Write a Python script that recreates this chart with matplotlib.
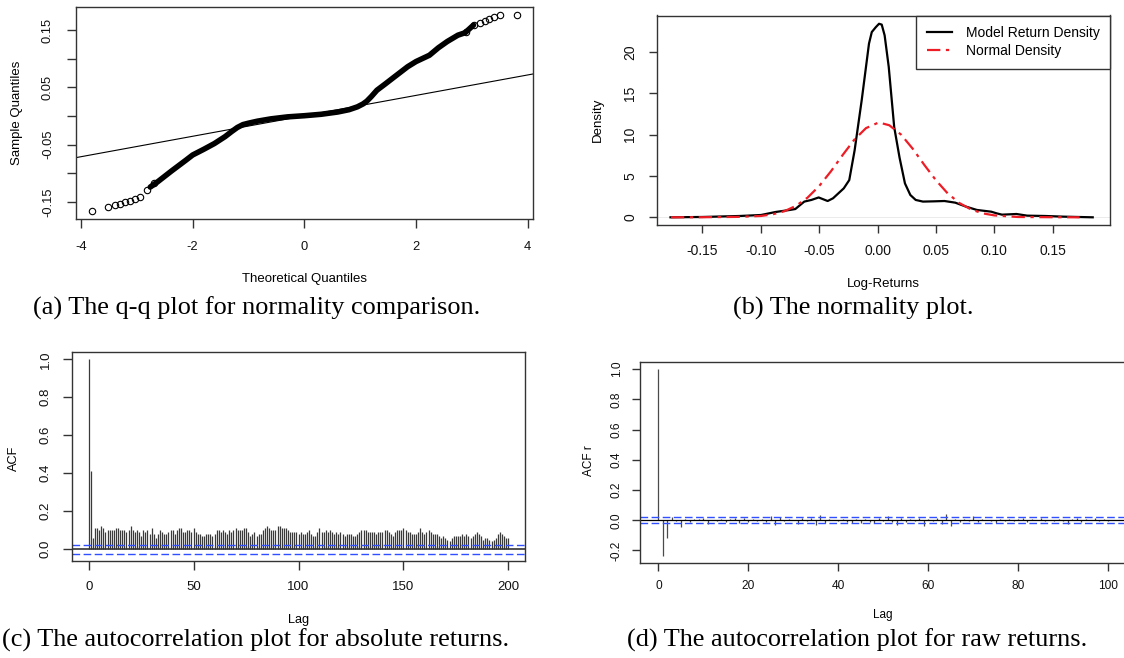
import numpy as np
import matplotlib
matplotlib.use("Agg")
import matplotlib.pyplot as plt

plt.rcParams["font.family"] = ["Liberation Sans", "DejaVu Sans"]
plt.rcParams["axes.unicode_minus"] = False

W, H = 1124, 658
DPI = 100

# (a) q-q plot: points (theoretical, sample)
qq_tail_lo_x = [-3.80, -3.52, -3.39, -3.30, -3.21, -3.12, -3.03, -2.94, -2.82, -2.70]
qq_tail_lo_y = [-0.1663, -0.158, -0.155, -0.154, -0.1506, -0.1483, -0.1453, -0.1408, -0.129, -0.1174]
qq_band_x = [-2.76, -2.63, -2.38, -2.12, -2.0, -1.80, -1.61, -1.42, -1.30, -1.20, -1.10,
             -1.0, -0.84, -0.6, -0.3, 0.0, 0.3, 0.6, 0.8, 0.95, 1.05, 1.12, 1.2, 1.3,
             1.45, 1.60, 1.85, 2.0, 2.24, 2.4, 2.56, 2.75, 2.88, 3.03]
qq_band_y = [-0.124, -0.115, -0.096, -0.077, -0.068, -0.058, -0.048, -0.036, -0.027, -0.020,
             -0.015, -0.0125, -0.009, -0.005, -0.0015, 0.0005, 0.003, 0.007, 0.011, 0.016,
             0.021, 0.026, 0.034, 0.045, 0.056, 0.0673, 0.086, 0.095, 0.106, 0.119, 0.130,
             0.141, 0.1453, 0.1587]
qq_tail_hi_x = [2.90, 3.03, 3.15, 3.24, 3.31, 3.39, 3.51, 3.81]
qq_tail_hi_y = [0.1460, 0.1587, 0.162, 0.166, 0.170, 0.173, 0.176, 0.1762]
qq_line_slope = 0.01783
qq_line_icpt = 0.0003

# (b) density curves
model_x = [-0.1774, -0.15, -0.118, -0.0998, -0.0875, -0.0752, -0.0705, -0.0628, -0.0567,
           -0.0505, -0.0428, -0.0382, -0.029, -0.0243, -0.0197, -0.0136, -0.0074, -0.005,
           -0.0015, 0.0012, 0.0035, 0.006, 0.0095, 0.0142, 0.0188, 0.0234, 0.028, 0.0326,
           0.0388, 0.048, 0.0573, 0.0665, 0.0757, 0.085, 0.0973, 0.1019, 0.1065, 0.1189,
           0.1281, 0.1435, 0.159, 0.1842]
model_y = [0.0, 0.04, 0.16, 0.28, 0.64, 0.89, 1.0, 1.9, 2.1, 2.4, 1.97, 2.3, 3.5, 4.5, 8.1,
           14.2, 21.0, 22.4, 23.0, 23.4, 23.3, 22.0, 18.2, 10.9, 7.2, 4.1, 2.7, 2.1, 1.9,
           1.93, 1.97, 1.77, 1.29, 0.89, 0.68, 0.48, 0.32, 0.4, 0.2, 0.16, 0.08, 0.0]
normal_x = [-0.177, -0.15, -0.12, -0.10, -0.09, -0.08, -0.07, -0.06, -0.05, -0.04, -0.03,
            -0.02, -0.01, 0.0, 0.002, 0.01, 0.02, 0.03, 0.04, 0.05, 0.06, 0.07, 0.08, 0.09,
            0.10, 0.12, 0.15, 0.173]
normal_y = [0.0, 0.01, 0.05, 0.16, 0.36, 0.73, 1.38, 2.38, 3.79, 5.56, 7.52, 9.38, 10.78,
            11.41, 11.43, 11.13, 10.01, 8.3, 6.33, 4.47, 2.89, 1.73, 0.95, 0.48, 0.23, 0.04,
            0.01, 0.0]

# (c) ACF of absolute returns, lags 0..200
acf_abs = [
    1.00, 0.41, 0.06, 0.11, 0.11, 0.10, 0.12, 0.11, 0.09, 0.10,
    0.10, 0.10, 0.10, 0.11, 0.11, 0.10, 0.10, 0.10, 0.09, 0.10,
    0.12, 0.10, 0.09, 0.10, 0.09, 0.07, 0.10, 0.09, 0.10, 0.08,
    0.11, 0.08, 0.06, 0.08, 0.10, 0.09, 0.08, 0.08, 0.09, 0.10,
    0.10, 0.08, 0.10, 0.11, 0.11, 0.09, 0.09, 0.10, 0.10, 0.09,
    0.11, 0.09, 0.08, 0.08, 0.07, 0.07, 0.08, 0.08, 0.08, 0.07,
    0.08, 0.10, 0.10, 0.09, 0.10, 0.09, 0.08, 0.10, 0.09, 0.10,
    0.11, 0.10, 0.10, 0.10, 0.11, 0.11, 0.09, 0.07, 0.08, 0.09,
    0.07, 0.08, 0.08, 0.10, 0.11, 0.12, 0.11, 0.10, 0.10, 0.10,
    0.12, 0.12, 0.11, 0.11, 0.11, 0.10, 0.09, 0.09, 0.09, 0.09,
    0.08, 0.09, 0.08, 0.08, 0.09, 0.10, 0.08, 0.07, 0.07, 0.09,
    0.11, 0.09, 0.09, 0.10, 0.09, 0.10, 0.09, 0.08, 0.09, 0.08,
    0.09, 0.08, 0.07, 0.08, 0.08, 0.08, 0.07, 0.07, 0.08, 0.09,
    0.10, 0.10, 0.10, 0.09, 0.09, 0.09, 0.09, 0.08, 0.09, 0.09,
    0.09, 0.10, 0.10, 0.09, 0.08, 0.07, 0.09, 0.10, 0.10, 0.10,
    0.11, 0.10, 0.09, 0.09, 0.08, 0.08, 0.08, 0.09, 0.11, 0.09,
    0.08, 0.09, 0.10, 0.09, 0.08, 0.08, 0.08, 0.07, 0.06, 0.07,
    0.06, 0.05, 0.04, 0.06, 0.07, 0.07, 0.07, 0.07, 0.08, 0.07,
    0.08, 0.07, 0.06, 0.07, 0.08, 0.09, 0.08, 0.07, 0.05, 0.06,
    0.06, 0.05, 0.04, 0.05, 0.06, 0.08, 0.09, 0.08, 0.07, 0.06,
    0.06,
]
ci_abs = 0.0235

# (d) ACF of raw returns, lags 0..100
acf_raw = [
    1.0, -0.235, -0.12, 0.024, -0.008, -0.047, 0.010, -0.012, 0.008, 0.006,
    0.012, -0.028, 0.004, -0.006, 0.010, -0.010, 0.006, 0.012, -0.016, 0.018,
    -0.012, 0.010, -0.008, 0.006, -0.014, 0.028, -0.030, 0.020, -0.006, 0.008,
    0.004, -0.022, 0.012, -0.008, 0.016, -0.032, 0.034, -0.016, 0.008, 0.004,
    -0.006, 0.010, -0.010, -0.020, 0.006, -0.018, 0.008, -0.010, -0.020, 0.012,
    -0.006, 0.026, -0.010, -0.034, 0.014, -0.012, 0.006, -0.008, 0.012, -0.040,
    0.010, -0.008, 0.014, -0.028, 0.044, -0.038, 0.010, -0.012, 0.006, -0.008,
    0.026, -0.010, 0.008, 0.004, -0.006, -0.016, 0.008, -0.006, 0.010, -0.004,
    0.006, 0.012, -0.010, 0.006, 0.004, 0.014, -0.008, 0.004, -0.006, 0.010,
    -0.004, -0.022, 0.006, 0.012, -0.010, 0.008, 0.004, 0.014, -0.008, 0.006,
    -0.004,
]
ci_raw = 0.021

captions = ["(a) The q-q plot for normality comparison.",
            "(b) The normality plot.",
            "(c) The autocorrelation plot for absolute returns.",
            "(d) The autocorrelation plot for raw returns."]

EDGE = "#333333"
BLUE = "#3050ff"


def px_axes(fig, left, top, right, bottom):
    return fig.add_axes([left / W, 1 - bottom / H, (right - left) / W, (bottom - top) / H])


def ftext(fig, x, y, s, **kw):
    fig.text(x / W, 1 - y / H, s, **kw)


def style(ax, size, tlen, pad):
    for sp in ax.spines.values():
        sp.set_color(EDGE)
        sp.set_linewidth(1.0)
    ax.tick_params(direction="out", length=tlen, width=1.0, color=EDGE,
                   labelsize=size, pad=pad, labelcolor="#111111")
    for lab in ax.get_yticklabels():
        lab.set_rotation(90)
        lab.set_va("center")


fig = plt.figure(figsize=(W / DPI, H / DPI), dpi=DPI)

# ---- (a) q-q plot
ax = px_axes(fig, 75.7, 6.7, 533, 219)
ax.set_xlim(-4.095, 4.095)
ax.set_ylim(-0.1797, 0.1907)
ax.plot(qq_band_x, qq_band_y, color="black", lw=4.0, solid_capstyle="round",
        solid_joinstyle="round")
ax.plot(qq_tail_lo_x + qq_tail_hi_x, qq_tail_lo_y + qq_tail_hi_y, "o",
        mfc="none", mec="black", ms=4.6, mew=0.8)
xl = np.array([-4.095, 4.095])
ax.plot(xl, qq_line_slope * xl + qq_line_icpt, color="black", lw=0.8)
ax.set_xticks([-4, -2, 0, 2, 4])
ax.set_yticks([-0.15, -0.10, -0.05, 0.0, 0.05, 0.10, 0.15])
ax.set_yticklabels(["-0.15", "", "-0.05", "", "0.05", "", "0.15"])
style(ax, 9.3, 6.7, 9)
ftext(fig, 17, 113, "Sample Quantiles", rotation=90, ha="center", va="center", fontsize=9.5)
ftext(fig, 304, 279, "Theoretical Quantiles", ha="center", va="center", fontsize=9.5)

# ---- (b) density
ax = px_axes(fig, 656.7, 15.5, 1110, 225)
ax.set_xlim(-0.1892, 0.199)
ax.set_ylim(-0.93, 24.4)
ax.axhline(0, color="#e8e8e8", lw=0.6, zorder=0)
ax.plot(model_x, model_y, color="black", lw=1.6, label="Model Return Density")
ax.plot(normal_x, normal_y, color="#ee1c25", lw=1.6, dashes=(6, 2.5, 1.5, 2.5),
        label="Normal Density")
ax.set_xticks([-0.15, -0.10, -0.05, 0.0, 0.05, 0.10, 0.15])
ax.set_xticklabels(["-0.15", "-0.10", "-0.05", "0.00", "0.05", "0.10", "0.15"])
ax.set_yticks([0, 5, 10, 15, 20])
style(ax, 10, 6, 8)
leg = ax.legend(loc="upper right", bbox_to_anchor=(1, 1), borderaxespad=0, fontsize=10,
                fancybox=False, framealpha=1, edgecolor=EDGE, handlelength=1.8,
                handletextpad=1.0, borderpad=0.75, labelspacing=0.3)
leg.get_frame().set_linewidth(1.0)
ftext(fig, 598, 120, "Density", rotation=90, ha="center", va="center", fontsize=9.5)
ftext(fig, 883, 284, "Log-Returns", ha="center", va="center", fontsize=9.5)

# ---- (c) ACF absolute returns
ax = px_axes(fig, 71.7, 351.7, 525.3, 561)
lags = np.arange(len(acf_abs))
ax.set_xlim(-8.1, 208.1)
ax.set_ylim(-0.063, 1.04)
ax.vlines(lags, 0, acf_abs, color="#3a3a3a", lw=0.9)
ax.axhline(0, color=EDGE, lw=1.2)
for c in (ci_abs, -ci_abs):
    ax.axhline(c, color=BLUE, lw=1.0, dashes=(5.5, 2.5))
ax.set_xticks([0, 50, 100, 150, 200])
ax.set_yticks([0.0, 0.2, 0.4, 0.6, 0.8, 1.0])
style(ax, 9.5, 6.5, 8)
ftext(fig, 14, 458, "ACF", rotation=90, ha="center", va="center", fontsize=9.2)
ftext(fig, 298.5, 620, "Lag", ha="center", va="center", fontsize=9.2)

# ---- (d) ACF raw returns (box runs past the right edge)
ax = px_axes(fig, 640, 362.3, 1126.3, 562.7)
lags = np.arange(len(acf_raw))
ax.set_xlim(-4.07, 104.0)
ax.set_ylim(-0.281, 1.046)
ax.vlines(lags, 0, acf_raw, color="#4a4a4a", lw=0.9)
ax.axhline(0, color="black", lw=0.9)
for c in (ci_raw, -ci_raw):
    ax.axhline(c, color=BLUE, lw=1.0, dashes=(5.5, 2.5))
ax.set_xticks([0, 20, 40, 60, 80, 100])
ax.set_yticks([-0.2, 0.0, 0.2, 0.4, 0.6, 0.8, 1.0])
style(ax, 8.6, 5.5, 7)
ftext(fig, 589.5, 461, "ACF r", rotation=90, ha="center", va="center", fontsize=8.5)
ftext(fig, 883, 615, "Lag", ha="center", va="center", fontsize=8.5)

# ---- captions
cap_kw = dict(ha="center", va="center", fontsize=18.9, family=["Liberation Serif", "DejaVu Serif"])
ftext(fig, 257, 308, captions[0], **cap_kw)
ftext(fig, 853, 308, captions[1], **cap_kw)
ftext(fig, 256, 640, captions[2], **cap_kw)
ftext(fig, 857, 640, captions[3], **cap_kw)

fig.savefig("out.png", dpi=DPI)
